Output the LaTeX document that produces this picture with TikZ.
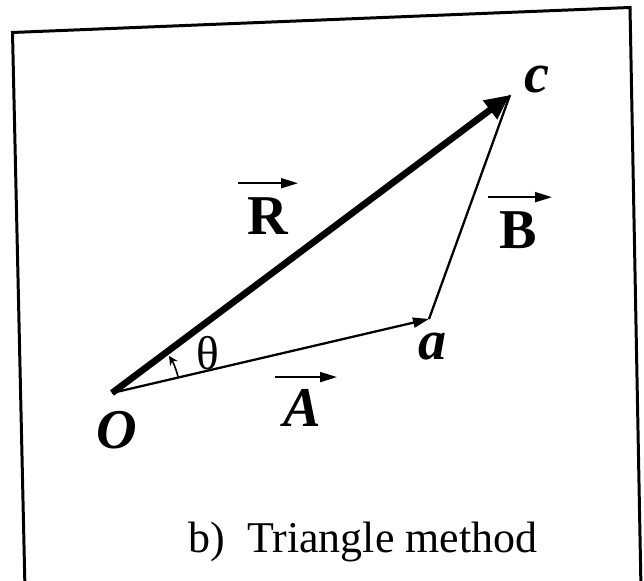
\documentclass[tikz,border=0pt]{standalone}
\usepackage{fontspec}
\setmainfont{Liberation Serif}
\usetikzlibrary{arrows.meta}
\tikzset{
  frame/.style={draw=black,line width=1.7pt},
  resultant/.style={-{Triangle[length=.5cm,width=.44cm]},line width=3.8pt},
  side/.style={line width=1.3pt},
  sidearrow/.style={side,-{Triangle[length=.32cm,width=.2cm]}},
  overarrow/.style={-{Triangle[length=.34cm,width=.2cm]},line width=1.1pt},
  anglearrow/.style={-{Stealth[length=1.8mm,width=1.8mm]},line width=.9pt},
  vecname/.style={font=\fontsize{32}{32}\selectfont\bfseries,inner sep=0pt},
  pointname/.style={font=\fontsize{32}{32}\selectfont\bfseries\itshape,inner sep=0pt},
  anglename/.style={font=\fontsize{27}{27}\selectfont,inner sep=0pt},
  caption/.style={font=\fontsize{25}{25}\selectfont,inner sep=0pt,anchor=base}
}

\begin{document}
\begin{tikzpicture}[x=.02cm,y=.02cm]
  \useasboundingbox (0,0) rectangle (644,580);
  \clip (0,0) rectangle (644,580);
  \coordinate (bl) at (25,-10);
  \coordinate (tl) at (12.5,547.5);
  \coordinate (tr) at (630,572.5);
  \coordinate (br) at (641,-10);
  \draw[frame] (bl) -- (tl) -- (tr) -- (br);
  \coordinate (O) at (112,187);
  \coordinate (a) at (429,261);
  \coordinate (c) at (510,485);
  \draw[side] (a) -- (c);
  \draw[sidearrow] (O) -- (a);
  \draw[resultant] (O) -- (c);
  \draw[anglearrow] (O) ++(13:68) arc[start angle=13,end angle=33,radius=1.36cm];
  \node[anglename] (theta) at (208,227) {θ};
  \node[pointname] (lblO) at (117,150) {O};
  \node[pointname] (lbla) at (433,233) {a};
  \node[pointname] (lblc) at (537,500) {c};
  \node[vecname] (lblR) at (268,364) {R};
  \node[vecname] (lblB) at (518,350) {B};
  \node[pointname] (lblA) at (302,172) {A};
  \draw[overarrow] ([shift={(-30,14)}]lblR.north) -- ([shift={(30,14)}]lblR.north);
  \draw[overarrow] ([shift={(-30,14)}]lblB.north) -- ([shift={(34,14)}]lblB.north);
  \draw[overarrow] ([shift={(-27,12)}]lblA.north) -- ([shift={(35,12)}]lblA.north);
  \node[caption] (cap) at (363,28) {b)~~Triangle method};
\end{tikzpicture}
\end{document}
